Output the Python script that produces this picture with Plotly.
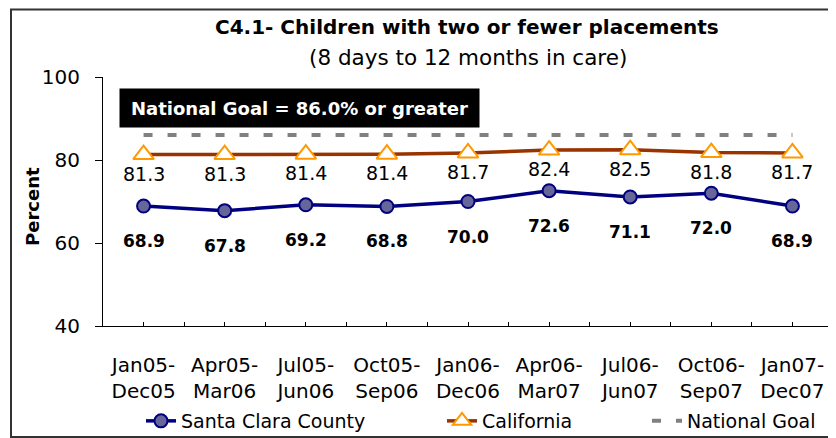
import plotly.graph_objects as go

periods_top = ["Jan05-", "Apr05-", "Jul05-", "Oct05-", "Jan06-", "Apr06-", "Jul06-", "Oct06-", "Jan07-"]
periods_bottom = ["Dec05", "Mar06", "Jun06", "Sep06", "Dec06", "Mar07", "Jun07", "Sep07", "Dec07"]
santa_clara = [68.9, 67.8, 69.2, 68.8, 70.0, 72.6, 71.1, 72.0, 68.9]
california = [81.3, 81.3, 81.4, 81.4, 81.7, 82.4, 82.5, 81.8, 81.7]
national_goal = 86.0
y_ticks = [40, 60, 80, 100]

FONT = "DejaVu Sans"
xs = list(range(len(periods_top)))
ticktext = [f"{a}<br>{b}" for a, b in zip(periods_top, periods_bottom)]

# page body has an 8px margin; layout below is expressed in window pixels
OFF = 8
PL, PR, PT, PB = 103, 833, 77, 326
W, H = 836 - OFF, 438 - OFF


def px(x):
    return (x - PL) / (PR - PL)


def py(y):
    return (PB - y) / (PB - PT)


fig = go.Figure()
fig.add_trace(go.Scatter(
    x=xs, y=santa_clara, mode="lines+markers", name="Santa Clara County",
    line=dict(color="#000080", width=3.5),
    marker=dict(symbol="circle", size=13, color="#666699", line=dict(color="#000080", width=2)),
    cliponaxis=False, legend="legend",
))
fig.add_trace(go.Scatter(
    x=xs, y=california, mode="lines+markers", name="California",
    line=dict(color="#993300", width=3.5),
    marker=dict(symbol="triangle-up", size=18, color="white", line=dict(color="#FF9900", width=2)),
    cliponaxis=False, legend="legend2",
))
fig.add_trace(go.Scatter(
    x=xs, y=[national_goal] * len(xs), mode="lines", name="National Goal",
    line=dict(color="#808080", width=4, dash="9px,15px"),
    legend="legend3",
))

annotations = []
for x, v in zip(xs, santa_clara):
    annotations.append(dict(x=x, y=v, xref="x", yref="y", text=f"<b>{v:.1f}</b>",
                            showarrow=False, yshift=-35, xanchor="center", yanchor="middle",
                            font=dict(family=FONT, size=17, color="black")))
for x, v in zip(xs, california):
    annotations.append(dict(x=x, y=v, xref="x", yref="y", text=f"{v:.1f}",
                            showarrow=False, yshift=-19, xanchor="center", yanchor="middle",
                            font=dict(family=FONT, size=19, color="black")))

annotations += [
    dict(x=px(467), y=py(27), xref="paper", yref="paper", showarrow=False,
         xanchor="center", yanchor="middle",
         text="<b>C4.1- Children with two or fewer placements</b>",
         font=dict(family=FONT, size=20, color="black")),
    dict(x=px(468), y=py(58), xref="paper", yref="paper", showarrow=False,
         xanchor="center", yanchor="middle",
         text="(8 days to 12 months in care)",
         font=dict(family=FONT, size=21.5, color="black")),
    dict(x=px(299.5), y=py(108), xref="paper", yref="paper", showarrow=False,
         xanchor="center", yanchor="middle",
         text=f"<b>National Goal = {national_goal:.1f}% or greater</b>",
         font=dict(family=FONT, size=18, color="white"),
         bgcolor="black", borderpad=8, width=343, height=22),
    dict(x=px(32), y=py(207), xref="paper", yref="paper", showarrow=False,
         xanchor="center", yanchor="middle",
         text="<b>Percent</b>", textangle=-90,
         font=dict(family=FONT, size=18, color="black")),
]


def leg(px_left):
    return dict(orientation="h", x=px(px_left), xanchor="left",
                yref="container", y=1 - (421 - OFF) / H, yanchor="middle",
                font=dict(family=FONT, size=19, color="black"),
                bgcolor="rgba(0,0,0,0)")


fig.update_layout(
    template="none",
    width=W, height=H, autosize=False,
    margin=dict(l=PL - OFF, r=W - (PR - OFF), t=PT - OFF, b=H - (PB - OFF), autoexpand=False),
    paper_bgcolor="white", plot_bgcolor="white",
    font=dict(family=FONT, color="black"),
    annotations=annotations,
    showlegend=True,
    legend=leg(141), legend2=leg(442), legend3=leg(647),
    shapes=[dict(type="rect", xref="paper", yref="paper",
                 x0=px(11), x1=px(834), y0=py(437), y1=py(9.5),
                 line=dict(color="#333333", width=2), layer="below")],
)

fig.update_xaxes(
    range=[-0.5, 8.5], tickmode="array", tickvals=xs, ticktext=ticktext,
    showline=True, linecolor="black", linewidth=1, automargin=False,
    ticks="inside", ticklen=4, tickcolor="black",
    minor=dict(tickmode="array", tickvals=[i + 0.5 for i in range(-1, len(xs))],
               ticks="inside", ticklen=4, tickcolor="black", showgrid=False),
    showgrid=False, zeroline=False,
    tickfont=dict(family=FONT, size=20, color="black"),
    ticklabelstandoff=21,
)
fig.update_yaxes(
    range=[40, 100], tickmode="array", tickvals=y_ticks,
    showline=True, linecolor="black", linewidth=1, automargin=False,
    ticks="outside", ticklen=7, tickcolor="black",
    showgrid=False, zeroline=False,
    tickfont=dict(family=FONT, size=20, color="black"),
    ticklabelstandoff=11,
)

fig.write_html("out.html")
